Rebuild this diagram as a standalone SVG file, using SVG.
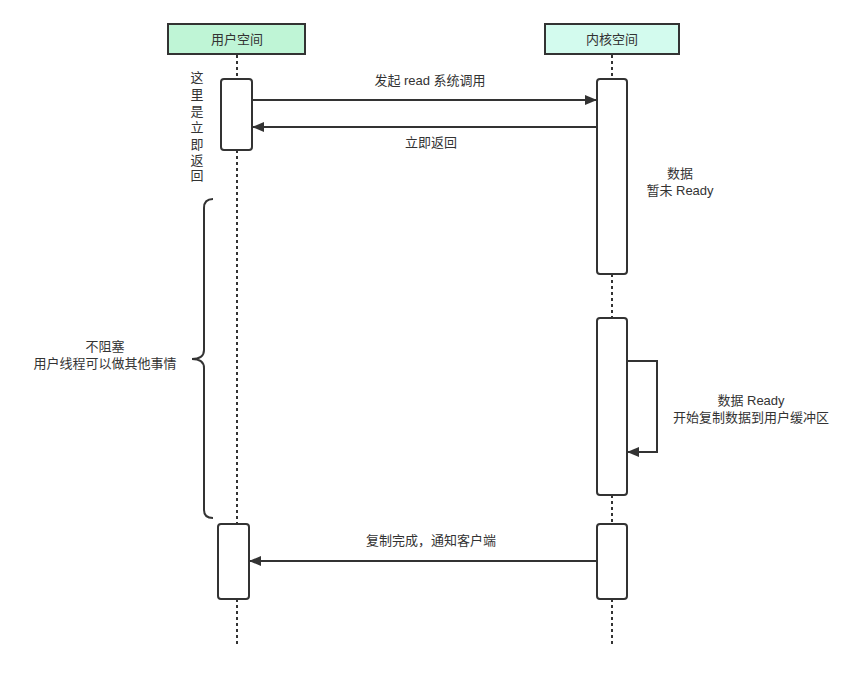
<svg xmlns="http://www.w3.org/2000/svg" width="862" height="674" viewBox="0 0 862 674">
<style>
text{font-family:"Liberation Sans","Noto Sans CJK SC",sans-serif;font-size:13px;fill:#333;}
.c{text-anchor:middle;}
.hdr{stroke:#333;stroke-width:2;}
.act{fill:#fff;stroke:#333;stroke-width:2;}
.life{stroke:#333;stroke-width:2;stroke-dasharray:3 3;fill:none;}
.msg{stroke:#333;stroke-width:2;fill:none;}
</style>
<defs>
<marker id="ah" markerWidth="12" markerHeight="10" refX="12" refY="5" orient="auto" markerUnits="userSpaceOnUse">
<path d="M0,0 L12,5 L0,10 Z" fill="#333"/>
</marker>
</defs>
<rect width="862" height="674" fill="#fff"/>
<g id="lifelines">
<line class="life" x1="237" y1="55" x2="237" y2="79"/>
<line class="life" x1="237" y1="150" x2="237" y2="524"/>
<line class="life" x1="237" y1="599" x2="237" y2="646"/>
<line class="life" x1="612" y1="55" x2="612" y2="79"/>
<line class="life" x1="612" y1="274" x2="612" y2="318"/>
<line class="life" x1="612" y1="495" x2="612" y2="524"/>
<line class="life" x1="612" y1="599" x2="612" y2="646"/>
</g>
<g id="user-space">
<rect class="hdr" x="168" y="24" width="137" height="30" fill="#bff5d6"/>
<text class="c" x="237" y="44">用户空间</text>
</g>
<g id="kernel-space">
<rect class="hdr" x="545" y="24" width="134" height="30" fill="#d3fbee"/>
<text class="c" x="612" y="44">内核空间</text>
</g>
<g id="user-act-1"><rect class="act" x="221" y="79" width="31" height="71" rx="3"/></g>
<g id="kernel-act-1"><rect class="act" x="597" y="79" width="30" height="195" rx="3"/></g>
<g id="kernel-act-2"><rect class="act" x="597" y="318" width="30" height="177" rx="3"/></g>
<g id="user-act-2"><rect class="act" x="218" y="524" width="31" height="75" rx="3"/></g>
<g id="kernel-act-3"><rect class="act" x="597" y="524" width="30" height="75" rx="3"/></g>
<g id="connectors">
<line class="msg" x1="252" y1="100" x2="597" y2="100" marker-end="url(#ah)"/>
<line class="msg" x1="597" y1="127" x2="252" y2="127" marker-end="url(#ah)"/>
<polyline class="msg" points="627,361 657,361 657,452 627,452" marker-end="url(#ah)"/>
<line class="msg" x1="597" y1="561" x2="249" y2="561" marker-end="url(#ah)"/>
</g>
<g id="brace">
<path d="M213,199 Q204,199 204,208 L204,350 Q204,359 192,359 Q204,359 204,368 L204,510 Q204,518 213,518" fill="none" stroke="#333" stroke-width="2"/>
</g>
<g id="labels">
<text class="c" x="430" y="85">发起 read 系统调用</text>
<text class="c" x="431" y="147">立即返回</text>
<text class="c" x="197" y="82">这</text>
<text class="c" x="197" y="99">里</text>
<text class="c" x="197" y="116">是</text>
<text class="c" x="197" y="132">立</text>
<text class="c" x="197" y="149">即</text>
<text class="c" x="197" y="165">返</text>
<text class="c" x="197" y="180">回</text>
<text class="c" x="680" y="178">数据</text>
<text class="c" x="680" y="195">暂未 Ready</text>
<text class="c" x="751" y="405">数据 Ready</text>
<text class="c" x="751" y="422">开始复制数据到用户缓冲区</text>
<text class="c" x="105" y="351">不阻塞</text>
<text class="c" x="105" y="368">用户线程可以做其他事情</text>
<text class="c" x="431" y="545">复制完成，通知客户端</text>
</g>
</svg>
